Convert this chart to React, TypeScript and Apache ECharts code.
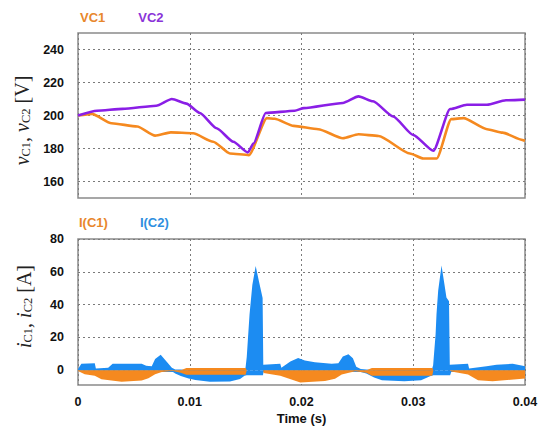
import React, { useEffect, useRef } from 'react';
import * as echarts from 'echarts';

// ---- data ----
const X_TICKS = [0, 0.01, 0.02, 0.03, 0.04];
const V_TICKS = [160, 180, 200, 220, 240];
const I_TICKS = [0, 20, 40, 60, 80];

const VC1_T = [0, 0.00125, 0.003, 0.0053, 0.0069, 0.0083, 0.0103, 0.0121, 0.0136, 0.0153, 0.0169, 0.0176, 0.0193, 0.0215, 0.0237, 0.0251, 0.0269, 0.0297, 0.0309, 0.0321, 0.0334, 0.0345, 0.0366, 0.038, 0.0398, 0.04];
const VC1 = [200, 201, 195.3, 193.3, 187.8, 189.8, 189.2, 184.1, 177, 176, 198.4, 198, 193.7, 191.7, 186.2, 188.6, 187.6, 177, 173.9, 173.9, 197.8, 198.4, 191.7, 189.6, 185.1, 184.7];

const VC2_T = [0, 0.0017, 0.004, 0.007, 0.0084, 0.0097, 0.0109, 0.0124, 0.0139, 0.0152, 0.0157, 0.0168, 0.0194, 0.0202, 0.0237, 0.0251, 0.0264, 0.0282, 0.03, 0.0318, 0.0333, 0.0348, 0.0366, 0.0383, 0.04];
const VC2 = [200, 202.9, 204, 205.9, 210, 207.2, 201.5, 192.3, 184.1, 177.6, 183, 201.5, 202.9, 204.5, 207.6, 211.6, 208.6, 199.4, 188.2, 178.6, 203.9, 206.5, 206.5, 209.2, 209.6];

// ripple band envelopes of the capacitor currents: [time, current]
const IC2_UPPER = [[0, 0.7], [0.0003, 3.9], [0.0015, 4.2], [0.0016, 1.0], [0.0027, 1.5], [0.0031, 3.9], [0.0057, 3.9], [0.0061, 2.8], [0.0066, 2.4], [0.0069, 6.9], [0.0074, 9.5], [0.0079, 5.5], [0.0084, 1.5], [0.0087, 0.5], [0.0092, 0.5], [0.0099, 0], [0.0105, -1], [0.0149, -1], [0.015, 2], [0.0151, 8], [0.01535, 34], [0.0156, 52], [0.0159, 63.5], [0.0162, 54], [0.01652, 44], [0.01658, 3.3], [0.0181, 3.9], [0.0182, 1.5], [0.019, 5.3], [0.0197, 7.4], [0.0203, 5.9], [0.0212, 4.8], [0.0227, 3.9], [0.0233, 4.2], [0.0237, 8.3], [0.0242, 9.7], [0.0246, 7.3], [0.0249, 2.2], [0.0253, 0.7], [0.0258, 0.5], [0.0265, 0], [0.0272, -1], [0.0316, -1], [0.03178, 3], [0.032, 22], [0.03208, 34], [0.03223, 48.5], [0.03253, 63.9], [0.0328, 52], [0.03297, 44.4], [0.0332, 42], [0.03327, 3.3], [0.0349, 3.9], [0.035, 1.0], [0.03656, 2.4], [0.03745, 3.3], [0.0389, 3.9], [0.0398, 2.8], [0.04, 2.5]];
const IC2_LOWER = [[0, 0], [0.0003, -1], [0.0085, -1], [0.0087, -2], [0.0092, -3.5], [0.0099, -5], [0.0105, -6], [0.0118, -7], [0.0136, -6.8], [0.0145, -5.3], [0.0149, -3.4], [0.0151, -3], [0.01655, -3], [0.0166, -1], [0.0181, -0.5], [0.0253, -1], [0.0258, -2], [0.0265, -4.5], [0.0272, -6.1], [0.0292, -6.7], [0.0307, -6.1], [0.0315, -3.7], [0.0318, -3], [0.0333, -3], [0.0334, -1], [0.04, -1]];
const IC1_UPPER = [[0, 0], [0.0092, 0], [0.0097, 1.3], [0.015, 1.3], [0.0151, 0], [0.0258, 0], [0.0263, 1.3], [0.0317, 1.3], [0.0318, 0], [0.04, 0]];
const IC1_LOWER = [[0, -0.5], [0.0006, -2.4], [0.0015, -3.4], [0.0021, -5.5], [0.0039, -7], [0.0057, -6.3], [0.0063, -4.9], [0.0069, -2.4], [0.0075, -1], [0.0085, -0.5], [0.0092, -1.5], [0.0097, -2.7], [0.015, -2.7], [0.0151, 0], [0.01658, 0], [0.0166, -1.7], [0.0181, -3.3], [0.0199, -7.4], [0.0221, -6.5], [0.023, -5.2], [0.0236, -2.6], [0.0248, -0.6], [0.0258, -1.5], [0.0263, -3.3], [0.0317, -3.3], [0.0318, 0], [0.03327, 0], [0.0334, -0.7], [0.0349, -2.6], [0.0358, -6.1], [0.0371, -6.7], [0.0395, -5.3], [0.04, -5]];

const ORANGE = '#F5891F';
const PURPLE = '#8A1EE6';
const BLUE = '#1C8CF2';

const SANS = 'Liberation Sans';
const SERIF = 'Liberation Serif';

function zip(t: number[], v: number[]) {
  return t.map((x, i) => [x, v[i]]);
}

function fmtTime(v: number) {
  return String(Number(v.toFixed(3)));
}

const nameRich = {
  i: { fontFamily: SERIF, fontStyle: 'italic', fontSize: 20, color: '#222' },
  s: { fontFamily: SERIF, fontSize: 12.5, color: '#222', verticalAlign: 'bottom' },
  n: { fontFamily: SERIF, fontSize: 20, color: '#222' },
};

function bandSeries(name: string, data: number[][], color: string) {
  return {
    name,
    type: 'line',
    xAxisIndex: 1,
    yAxisIndex: 1,
    data,
    showSymbol: false,
    symbol: 'none',
    lineStyle: { width: 0, color },
    itemStyle: { color },
    areaStyle: { color, opacity: 1 },
    emphasis: { disabled: true },
  };
}

export default function App() {
  const ref = useRef<HTMLDivElement>(null);
  useEffect(() => {
    if (!ref.current) return;
    const chart = echarts.init(ref.current, undefined, { renderer: 'svg' });
    const splitStyle = { type: [2, 3], color: '#7a7a7a', width: 1 };
    const tickLabel = { fontFamily: SANS, fontWeight: 'bold', fontSize: 12.5, color: '#111' };
    const option = {
      animation: false,
      backgroundColor: '#ffffff',
      textStyle: { fontFamily: SANS },
      grid: [
        { left: 78, right: 18, top: 33, height: 165, show: true, borderColor: '#8a8a8a', borderWidth: 1.5 },
        { left: 78, right: 18, top: 239, height: 146, show: true, borderColor: '#8a8a8a', borderWidth: 1.5 },
      ],
      legend: [
        {
          left: 69, top: 6, itemWidth: 0, itemHeight: 0, itemGap: 27, selectedMode: false,
          textStyle: { fontFamily: SANS, fontWeight: 'bold', fontSize: 13 },
          data: [
            { name: 'VC1', textStyle: { color: '#E8872C' } },
            { name: 'VC2', textStyle: { color: '#8A33D8' } },
          ],
        },
        {
          left: 69, top: 211, itemWidth: 0, itemHeight: 0, itemGap: 27, selectedMode: false,
          textStyle: { fontFamily: SANS, fontWeight: 'bold', fontSize: 13 },
          data: [
            { name: 'I(C1)', textStyle: { color: '#E8872C' } },
            { name: 'I(C2)', textStyle: { color: '#2E8FE0' } },
          ],
        },
      ],
      xAxis: [
        {
          gridIndex: 0, type: 'value', min: 0, max: 0.04, interval: 0.01,
          axisLine: { show: false }, axisTick: { show: false }, axisLabel: { show: false },
          splitLine: { show: true, lineStyle: splitStyle },
        },
        {
          gridIndex: 1, type: 'value', min: 0, max: 0.04, interval: 0.01,
          axisLine: { show: false }, axisTick: { show: false },
          axisLabel: { ...tickLabel, margin: 10, formatter: (v: number) => fmtTime(v) },
          splitLine: { show: true, lineStyle: splitStyle },
          name: 'Time (s)', nameLocation: 'middle', nameGap: 27,
          nameTextStyle: { fontFamily: SANS, fontWeight: 'bold', fontSize: 13, color: '#111' },
        },
      ],
      yAxis: [
        {
          gridIndex: 0, type: 'value', min: 150, max: 250,
          axisLine: { show: false },
          axisTick: { show: false, customValues: V_TICKS },
          axisLabel: { ...tickLabel, margin: 14, customValues: V_TICKS },
          splitLine: { show: true, lineStyle: splitStyle },
          name: '{i|v}{s|C1}{n|, }{i|v}{s|C2}{n| [V]}',
          nameLocation: 'middle', nameGap: 44,
          nameTextStyle: { rich: nameRich, padding: [0, 10, 0, 0] },
        },
        {
          gridIndex: 1, type: 'value', min: -9, max: 80,
          axisLine: { show: false },
          axisTick: { show: false, customValues: I_TICKS },
          axisLabel: { ...tickLabel, margin: 14, customValues: I_TICKS },
          splitLine: { show: true, lineStyle: splitStyle },
          name: '{i|i}{s|C1}{n|, }{i|i}{s|C2}{n| [A]}',
          nameLocation: 'middle', nameGap: 44,
          nameTextStyle: { rich: nameRich, padding: [0, 0, 0, 11] },
        },
      ],
      series: [
        {
          name: 'VC1', type: 'line', xAxisIndex: 0, yAxisIndex: 0,
          data: zip(VC1_T, VC1), showSymbol: false, symbol: 'none',
          smooth: 0.2, smoothMonotone: 'x',
          lineStyle: { width: 2.6, color: ORANGE }, itemStyle: { color: ORANGE },
        },
        {
          name: 'VC2', type: 'line', xAxisIndex: 0, yAxisIndex: 0,
          data: zip(VC2_T, VC2), showSymbol: false, symbol: 'none',
          smooth: 0.2, smoothMonotone: 'x',
          lineStyle: { width: 2.6, color: PURPLE }, itemStyle: { color: PURPLE },
        },
        bandSeries('I(C2)', IC2_UPPER, BLUE),
        bandSeries('I(C2)', IC2_LOWER, BLUE),
        bandSeries('I(C1)', IC1_UPPER, ORANGE),
        bandSeries('I(C1)', IC1_LOWER, ORANGE),
      ],
    };
    chart.setOption(option as any);
    return () => chart.dispose();
  }, []);
  return (
    <div
      ref={ref}
      style={{ position: 'fixed', left: 0, top: 0, width: 543, height: 428, background: '#fff' }}
    />
  );
}
